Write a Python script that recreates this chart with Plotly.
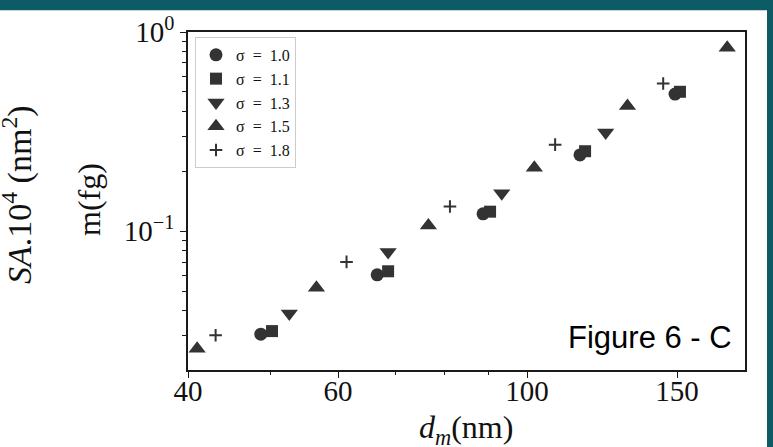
import plotly.graph_objects as go

# ---- data ----
d_s10 = [48.7, 66.7, 88.8, 115.4, 149.2]
m_s10 = [0.0304, 0.0604, 0.1222, 0.2415, 0.4877]
d_s11 = [50.2, 68.7, 90.5, 117.0, 151.2]
m_s11 = [0.0315, 0.0629, 0.1253, 0.252, 0.501]
d_s13 = [52.6, 68.7, 93.4, 123.7]
m_s13 = [0.0386, 0.0786, 0.155, 0.313]
d_s15 = [41.0, 56.6, 76.6, 102.0, 131.2, 171.8]
m_s15 = [0.0257, 0.052, 0.1068, 0.2082, 0.425, 0.8325]
d_s18 = [43.1, 61.4, 81.2, 107.9, 144.5]
m_s18 = [0.0300, 0.0701, 0.1331, 0.2719, 0.551]

series_names = ["σ\u2002=\u20021.0", "σ\u2002=\u20021.1", "σ\u2002=\u20021.3",
                "σ\u2002=\u20021.5", "σ\u2002=\u20021.8"]

x_tickvals = [40, 60, 100, 150]
x_ticktext = ["40", "60", "100", "150"]
x_minor = [50, 70, 80, 90]
y_tickvals = [0.1, 1]
y_ticktext = ["10<sup>−1</sup>", "10<sup>0</sup>"]
y_minor = [0.02, 0.03, 0.04, 0.05, 0.06, 0.07, 0.08, 0.09,
           0.2, 0.3, 0.4, 0.5, 0.6, 0.7, 0.8, 0.9]

# ---- layout geometry ----
W, H = 773, 447
L, R, T, B = 188, 745, 28, 370


def px(xp):
    return (xp - L) / (R - L)


def py(yp):
    return (B - yp) / (B - T)


MC = "#333333"
fig = go.Figure()
fig.add_trace(go.Scatter(x=d_s10, y=m_s10, mode="markers", name=series_names[0],
                         marker=dict(symbol="circle", size=13, color=MC)))
fig.add_trace(go.Scatter(x=d_s11, y=m_s11, mode="markers", name=series_names[1],
                         marker=dict(symbol="square", size=12, color=MC)))
fig.add_trace(go.Scatter(x=d_s13, y=m_s13, mode="markers", name=series_names[2],
                         marker=dict(symbol="triangle-down", size=15, color=MC)))
fig.add_trace(go.Scatter(x=d_s15, y=m_s15, mode="markers", name=series_names[3],
                         marker=dict(symbol="triangle-up", size=15, color=MC)))
fig.add_trace(go.Scatter(x=d_s18, y=m_s18, mode="markers", name=series_names[4],
                         marker=dict(symbol="cross-thin", size=9, color=MC,
                                     line=dict(color=MC, width=2))))

SERIF = "Liberation Serif"
axis_common = dict(
    type="log", showgrid=False, zeroline=False,
    showline=True, linecolor="#1a1a1a", linewidth=1.5, mirror=True,
    ticks="outside", tickcolor="#1a1a1a", tickwidth=1.2, ticklen=6,
    tickfont=dict(family=SERIF, size=29, color="#111"),
)

fig.update_xaxes(**axis_common, range=[1.60206, 2.2559],
                 tickmode="array", tickvals=x_tickvals, ticktext=x_ticktext,
                 ticklabelstandoff=-12,
                 minor=dict(tickmode="array", tickvals=x_minor, ticks="outside",
                            ticklen=3.5, tickcolor="#1a1a1a", tickwidth=1))
fig.update_yaxes(**axis_common, range=[-1.697, 0],
                 tickmode="array", tickvals=y_tickvals, ticktext=y_ticktext,
                 minor=dict(tickmode="array", tickvals=y_minor, ticks="outside",
                            ticklen=4, tickcolor="#1a1a1a", tickwidth=1))

TEAL = "#0d5b65"
fig.update_layout(
    width=W, height=H,
    margin=dict(l=L, r=W - R, t=T, b=H - B),
    paper_bgcolor="white", plot_bgcolor="white",
    showlegend=True,
    legend=dict(x=px(195), y=py(33), xanchor="left", yanchor="top",
                bgcolor="rgba(255,255,255,0.9)", bordercolor="#cccccc", borderwidth=1,
                font=dict(family=SERIF, size=16, color="#111")),
    shapes=[
        dict(type="rect", xref="paper", yref="paper", x0=px(-5), x1=px(W + 5),
             y0=py(6), y1=py(-5), fillcolor=TEAL, line=dict(width=0), layer="above"),
        dict(type="rect", xref="paper", yref="paper", x0=px(767), x1=px(W + 5),
             y0=py(H + 5), y1=py(-5), fillcolor=TEAL, line=dict(width=0), layer="above"),
    ],
    annotations=[
        dict(text="<i>d</i><sub><i>m</i></sub>(nm)", xref="paper", yref="paper",
             x=px(466), y=py(430), xanchor="center", yanchor="middle", showarrow=False,
             font=dict(family=SERIF, size=32, color="#111")),
        dict(text="m(fg)", xref="paper", yref="paper", textangle=-90,
             x=px(89), y=py(198), xanchor="center", yanchor="middle", showarrow=False,
             font=dict(family=SERIF, size=32, color="#111")),
        dict(text="<i>SA</i>.10<sup>4</sup> (nm<sup>2</sup>)", xref="paper", yref="paper",
             textangle=-90, x=px(17), y=py(193), xanchor="center", yanchor="middle",
             showarrow=False, font=dict(family=SERIF, size=34, color="#111")),
        dict(text="Figure 6 - C", xref="paper", yref="paper",
             x=px(734), y=py(337), xanchor="right", yanchor="middle", showarrow=False,
             font=dict(family="Liberation Sans", size=31, color="black")),
    ],
)

fig.write_html("out.html")
